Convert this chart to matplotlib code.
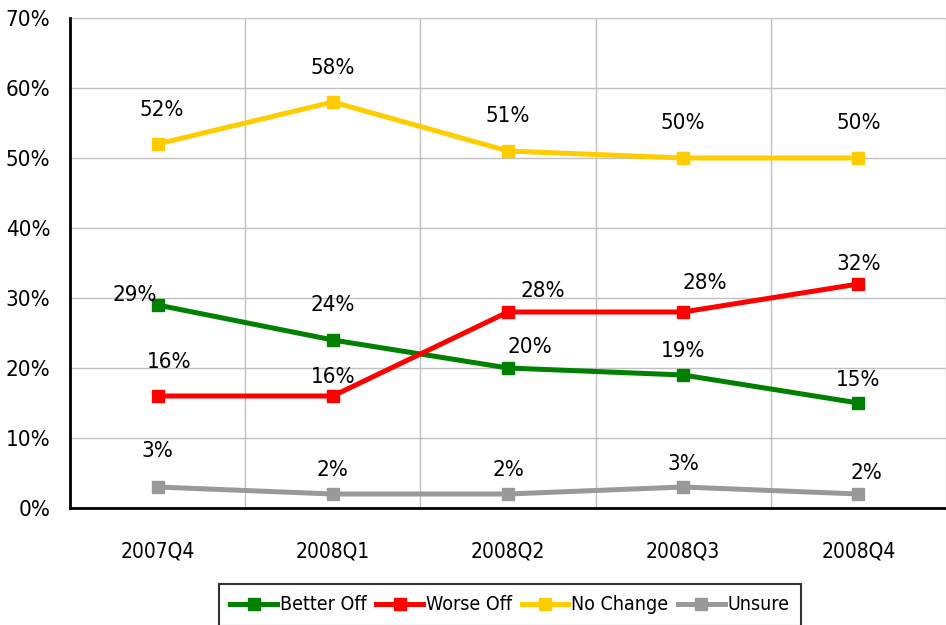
import matplotlib
matplotlib.use('Agg')
import matplotlib.pyplot as plt
from matplotlib import font_manager

quarters = ['2007Q4', '2008Q1', '2008Q2', '2008Q3', '2008Q4']
better_off = [29, 24, 20, 19, 15]
worse_off = [16, 16, 28, 28, 32]
no_change = [52, 58, 51, 50, 50]
unsure = [3, 2, 2, 3, 2]

# look for a narrow / condensed face, the original uses a condensed font
cond = None
for f in font_manager.fontManager.ttflist:
    low = (f.name + ' ' + f.fname).lower()
    if ('condensed' in low or 'narrow' in low) and f.weight in (400, 'normal') and f.style == 'normal':
        if 'semi' in low or 'extra' in low:
            continue
        cond = f.fname
        break
if cond:
    font_manager.fontManager.addfont(cond)
    fam = font_manager.FontProperties(fname=cond).get_name()
    plt.rcParams['font.family'] = [fam, 'DejaVu Sans']
    plt.rcParams['font.stretch'] = 'condensed'
else:
    plt.rcParams['font.family'] = ['DejaVu Sans']
    plt.rcParams['font.stretch'] = 'condensed'

series = [
    ('Better Off', better_off, '#008000'),
    ('Worse Off', worse_off, '#ff0000'),
    ('No Change', no_change, '#ffcc00'),
    ('Unsure', unsure, '#999999'),
]

# label offsets in pixels (dx, dy) for each point
offsets = {
    'Better Off': [(-23, 10), (0, 35), (22, 21), (0, 24), (0, 23)],
    'Worse Off': [(12, 34), (0, 19), (35, 21), (22, 29), (0, 20)],
    'No Change': [(4, 34), (0, 34), (0, 35), (0, 35), (0, 35)],
    'Unsure': [(0, 36), (0, 24), (0, 24), (0, 23), (8, 21)],
}

fig = plt.figure(figsize=(9.46, 6.25), dpi=100)
ax = fig.add_axes([70 / 946, 1 - 508 / 625, 876 / 946, 490 / 625])

x = list(range(len(quarters)))
for name, vals, col in series:
    ax.plot(x, vals, color=col, lw=3.6, marker='s', ms=8, label=name, zorder=3)
    for i, v in enumerate(vals):
        dx, dy = offsets[name][i]
        ax.annotate(f'{v}%', (i, v), xytext=(dx * 0.72, dy * 0.72),
                    textcoords='offset points', ha='center', va='center',
                    fontsize=16, color='black')

ax.set_xlim(-0.5, 4.5)
ax.set_ylim(0, 70)
ax.set_yticks(range(0, 71, 10))
ax.set_yticklabels([f'{t}%' for t in range(0, 71, 10)], fontsize=16)
ax.set_xticks(x)
ax.set_xticklabels(quarters, fontsize=15)
ax.set_xticks([i + 0.5 for i in range(-1, 5)], minor=True)
ax.grid(True, axis='y', color='#c0c0c0', lw=1)
ax.grid(True, axis='x', which='minor', color='#c0c0c0', lw=1)
ax.tick_params(axis='both', which='both', length=0)
ax.tick_params(axis='y', pad=14)
ax.tick_params(axis='x', pad=24)
for s in ['top', 'right']:
    ax.spines[s].set_visible(False)
for s in ['left', 'bottom']:
    ax.spines[s].set_linewidth(2)
    ax.spines[s].set_color('black')
ax.set_axisbelow(True)

leg = fig.legend(loc='upper center', bbox_to_anchor=(0.539, 1 - 574 / 625), ncol=4,
                 fontsize=14, frameon=True, fancybox=False, edgecolor='black',
                 handlelength=2.4, columnspacing=0.5, handletextpad=0.15,
                 borderpad=0.6)
leg.get_frame().set_linewidth(1.5)

fig.savefig('out.png', dpi=100)
